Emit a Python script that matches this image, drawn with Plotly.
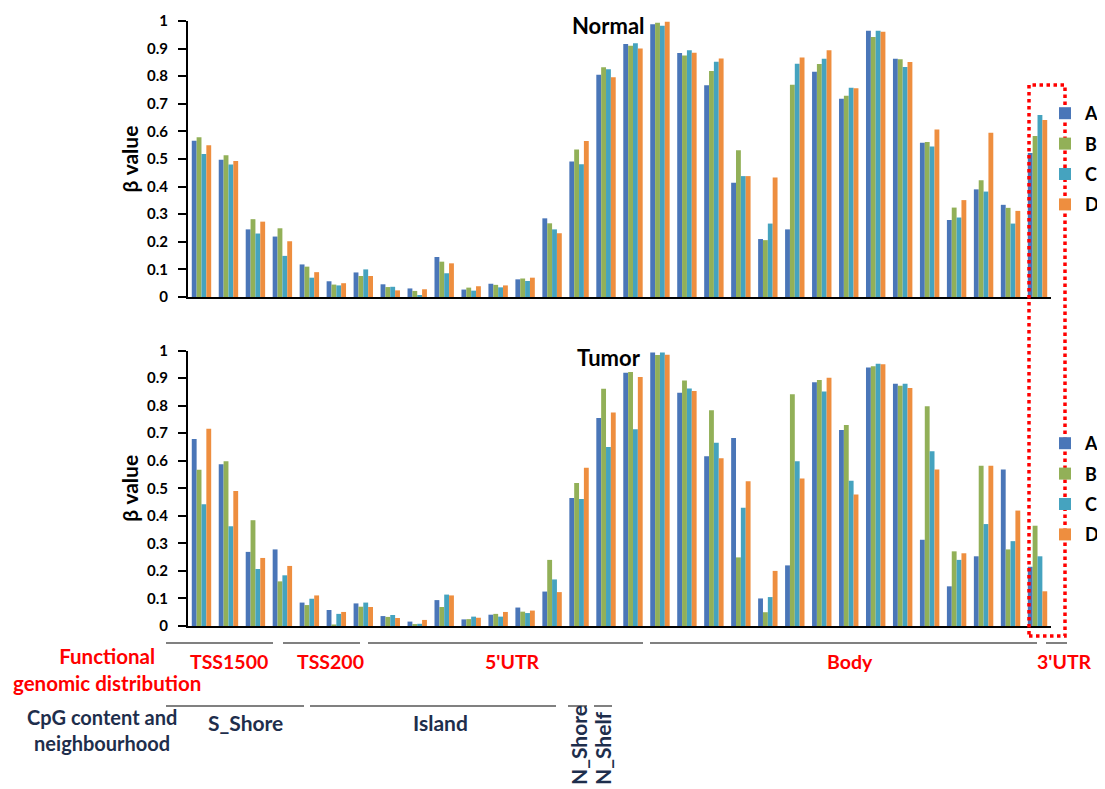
import plotly.graph_objects as go

W, H = 1105, 789
OFF = 8  # page body margin in the browser

series_names = ["A", "B", "C", "D"]
series_colors = ["#4A76B8", "#92B058", "#45A3BF", "#EE8E3F"]

probes = [str(i) for i in range(1, 33)]

normal_A = [0.566, 0.497, 0.245, 0.219, 0.118, 0.057, 0.089, 0.046, 0.031, 0.145, 0.027, 0.048, 0.064, 0.285, 0.491, 0.805,
            0.917, 0.988, 0.884, 0.767, 0.414, 0.210, 0.245, 0.816, 0.718, 0.965, 0.863, 0.559, 0.279, 0.390, 0.334, 0.522]
normal_B = [0.579, 0.514, 0.282, 0.249, 0.110, 0.045, 0.076, 0.036, 0.022, 0.128, 0.034, 0.044, 0.067, 0.267, 0.534, 0.832,
            0.910, 0.994, 0.875, 0.819, 0.532, 0.206, 0.769, 0.844, 0.729, 0.942, 0.861, 0.562, 0.324, 0.423, 0.323, 0.583]
normal_C = [0.518, 0.480, 0.230, 0.149, 0.070, 0.042, 0.100, 0.037, 0.007, 0.086, 0.023, 0.035, 0.058, 0.245, 0.481, 0.825,
            0.919, 0.983, 0.894, 0.852, 0.438, 0.266, 0.845, 0.863, 0.758, 0.965, 0.833, 0.545, 0.288, 0.382, 0.266, 0.659]
normal_D = [0.550, 0.493, 0.273, 0.202, 0.090, 0.050, 0.076, 0.024, 0.028, 0.122, 0.039, 0.042, 0.070, 0.231, 0.565, 0.796,
            0.900, 0.997, 0.885, 0.864, 0.438, 0.433, 0.868, 0.894, 0.756, 0.961, 0.851, 0.607, 0.351, 0.595, 0.312, 0.641]

tumor_A = [0.679, 0.587, 0.269, 0.278, 0.085, 0.058, 0.082, 0.036, 0.016, 0.094, 0.024, 0.041, 0.067, 0.125, 0.465, 0.755,
           0.919, 0.993, 0.847, 0.616, 0.682, 0.100, 0.220, 0.885, 0.711, 0.938, 0.879, 0.313, 0.144, 0.253, 0.568, 0.215]
tumor_B = [0.567, 0.598, 0.384, 0.162, 0.076, 0.004, 0.070, 0.033, 0.007, 0.069, 0.025, 0.044, 0.052, 0.240, 0.519, 0.861,
           0.922, 0.984, 0.891, 0.783, 0.249, 0.050, 0.841, 0.893, 0.730, 0.943, 0.872, 0.798, 0.271, 0.582, 0.278, 0.364]
tumor_C = [0.442, 0.362, 0.207, 0.184, 0.099, 0.044, 0.085, 0.040, 0.008, 0.114, 0.034, 0.034, 0.047, 0.169, 0.461, 0.650,
           0.714, 0.993, 0.862, 0.665, 0.429, 0.105, 0.598, 0.851, 0.527, 0.952, 0.879, 0.634, 0.240, 0.370, 0.308, 0.253]
tumor_D = [0.716, 0.490, 0.247, 0.218, 0.111, 0.051, 0.069, 0.029, 0.022, 0.111, 0.030, 0.051, 0.056, 0.123, 0.574, 0.775,
           0.904, 0.985, 0.853, 0.609, 0.525, 0.200, 0.535, 0.901, 0.477, 0.950, 0.864, 0.568, 0.264, 0.582, 0.419, 0.126]

panel_titles = ["Normal", "Tumor"]
y_tick_vals = [0, 0.1, 0.2, 0.3, 0.4, 0.5, 0.6, 0.7, 0.8, 0.9, 1]
y_tick_text = ["0", "0.1", "0.2", "0.3", "0.4", "0.5", "0.6", "0.7", "0.8", "0.9", "1"]

functional_labels = ["TSS1500", "TSS200", "5'UTR", "Body", "3'UTR"]
cpg_labels = ["S_Shore", "Island", "N_Shore", "N_Shelf"]

FONT = "Lato"


def px_x(p):
    return (p - OFF) / W


def px_y(p):
    return 1 - (p - OFF) / H


fig = go.Figure()

normal_sets = [normal_A, normal_B, normal_C, normal_D]
tumor_sets = [tumor_A, tumor_B, tumor_C, tumor_D]

for i, name in enumerate(series_names):
    fig.add_trace(go.Bar(x=probes, y=normal_sets[i], name=name, marker=dict(color=series_colors[i], line=dict(width=0)),
                         xaxis="x", yaxis="y", legend="legend", legendgroup="n" + name))
for i, name in enumerate(series_names):
    fig.add_trace(go.Bar(x=probes, y=tumor_sets[i], name=name, marker=dict(color=series_colors[i], line=dict(width=0)),
                         xaxis="x2", yaxis="y2", legend="legend2", legendgroup="t" + name))

x_dom = [px_x(188), px_x(1051)]
axis_common_x = dict(showticklabels=False, ticks="", showline=True, linecolor="black", linewidth=2,
                     showgrid=False, zeroline=False, type="category", fixedrange=True, automargin=False)
axis_common_y = dict(range=[0, 1], tickvals=y_tick_vals, ticktext=y_tick_text, ticks="outside", ticklen=8,
                     tickwidth=2, tickcolor="black", showline=True, linecolor="black", linewidth=2,
                     showgrid=False, zeroline=False, automargin=False, ticklabelstandoff=7,
                     tickfont=dict(family=FONT, size=15, color="black", weight="bold"),
                     title=dict(text="β value", font=dict(family=FONT, size=21, color="black", weight="bold"),
                                standoff=3))

legend_common = dict(font=dict(family=FONT, size=18, color="black", weight="bold"), tracegroupgap=4,
                     bgcolor="rgba(0,0,0,0)", xanchor="left", yanchor="top", itemclick=False, itemdoubleclick=False)

fig.update_layout(
    width=W, height=H,
    margin=dict(l=0, r=0, t=0, b=0, pad=0, autoexpand=False),
    paper_bgcolor="white", plot_bgcolor="white",
    barmode="group", bargap=0.28, bargroupgap=0,
    xaxis=dict(domain=x_dom, anchor="y", **axis_common_x),
    yaxis=dict(domain=[px_y(297), px_y(21)], anchor="x", **axis_common_y),
    xaxis2=dict(domain=x_dom, anchor="y2", **axis_common_x),
    yaxis2=dict(domain=[px_y(626), px_y(350.5)], anchor="x2", **axis_common_y),
    legend=dict(x=px_x(1045), y=px_y(95), **legend_common),
    legend2=dict(x=px_x(1045), y=px_y(425), **legend_common),
    showlegend=True,
)

annotations = []
title_font = dict(family=FONT, size=22, color="black", weight="bold")
annotations.append(dict(text=panel_titles[0], x=px_x(608), y=px_y(26), xref="paper", yref="paper", showarrow=False,
                        xanchor="center", yanchor="middle", font=title_font))
annotations.append(dict(text=panel_titles[1], x=px_x(609), y=px_y(357), xref="paper", yref="paper", showarrow=False,
                        xanchor="center", yanchor="middle", font=title_font))

red_font = dict(family=FONT, size=19.5, color="#FF0000", weight="bold")
red_font_big = dict(family=FONT, size=20.5, color="#FF0000", weight="bold")
navy_font = dict(family=FONT, size=21, color="#1E2E4C", weight="bold")
navy_font_left = dict(family=FONT, size=20, color="#1E2E4C", weight="bold")

annotations.append(dict(text="Functional<br>genomic distribution", x=px_x(107), y=px_y(669), xref="paper", yref="paper",
                        showarrow=False, font=red_font_big, align="center", xanchor="center", yanchor="middle"))
func_x = [229, 330, 512, 850, 1064]
for lab, cx in zip(functional_labels, func_x):
    annotations.append(dict(text=lab, x=px_x(cx), y=px_y(661), xref="paper", yref="paper", showarrow=False,
                            xanchor="center", yanchor="middle", font=red_font))

annotations.append(dict(text="CpG content and<br>neighbourhood", x=px_x(102), y=px_y(730), xref="paper", yref="paper",
                        showarrow=False, font=navy_font_left, align="center", xanchor="center", yanchor="middle"))
annotations.append(dict(text=cpg_labels[0], x=px_x(245), y=px_y(722), xref="paper", yref="paper", showarrow=False,
                        xanchor="center", yanchor="middle", font=navy_font))
annotations.append(dict(text=cpg_labels[1], x=px_x(440), y=px_y(722), xref="paper", yref="paper", showarrow=False,
                        xanchor="center", yanchor="middle", font=navy_font))
annotations.append(dict(text=cpg_labels[2], x=px_x(578), y=px_y(787), xref="paper", yref="paper", showarrow=False,
                        font=navy_font, textangle=-90, xanchor="center", yanchor="bottom"))
annotations.append(dict(text=cpg_labels[3], x=px_x(602), y=px_y(787), xref="paper", yref="paper", showarrow=False,
                        font=navy_font, textangle=-90, xanchor="center", yanchor="bottom"))

fig.update_layout(annotations=annotations)

shapes = []
line_style = dict(color="#808080", width=2)
func_segments = [(166, 273), (283, 360), (368, 643), (650, 1037), (1046, 1067)]
for x0, x1 in func_segments:
    shapes.append(dict(type="line", xref="paper", yref="paper", x0=px_x(x0), x1=px_x(x1), y0=px_y(643), y1=px_y(643),
                       line=line_style))
cpg_segments = [(166, 304), (310, 556), (568, 587), (594, 612)]
for x0, x1 in cpg_segments:
    shapes.append(dict(type="line", xref="paper", yref="paper", x0=px_x(x0), x1=px_x(x1), y0=px_y(706), y1=px_y(706),
                       line=line_style))
shapes.append(dict(type="rect", xref="paper", yref="paper", x0=px_x(1029), x1=px_x(1065), y0=px_y(636), y1=px_y(85),
                   line=dict(color="#FF0000", width=3.5, dash="dot"), fillcolor="rgba(0,0,0,0)"))
fig.update_layout(shapes=shapes)

fig.write_html("out.html")
